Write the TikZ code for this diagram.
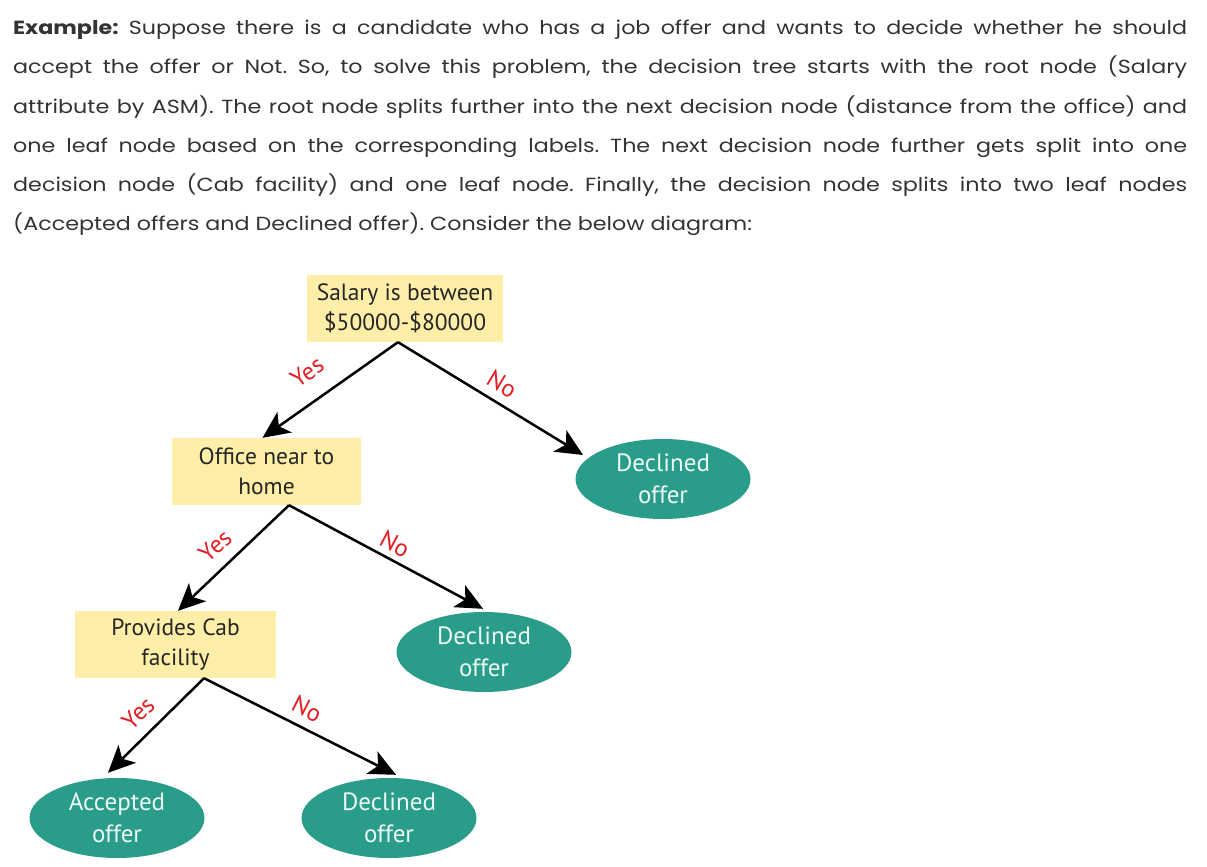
\documentclass[tikz,border=0pt]{standalone}
\usepackage{fontspec}
\setmainfont{Poppins}[FakeStretch=1.17]
\newfontfamily\diagfont{PT Sans}
\usetikzlibrary{shapes.geometric,arrows.meta}
\definecolor{boxyellow}{RGB}{255,238,168}
\definecolor{leafteal}{RGB}{42,157,138}
\definecolor{leaftext}{RGB}{235,248,243}
\definecolor{labred}{RGB}{226,30,36}
\definecolor{bodytext}{RGB}{51,51,51}
\tikzset{
  line/.style={anchor=base west,inner sep=0pt,text=bodytext,font=\fontsize{19}{22}\selectfont\frenchspacing},
  decbox/.style={rectangle,fill=boxyellow,inner sep=0pt,align=center,font=\diagfont\fontsize{23.5}{30}\selectfont,text=black!85},
  leaf/.style={ellipse,fill=leafteal,inner sep=0pt,minimum width=175pt,minimum height=80pt,align=center,font=\diagfont\fontsize{25}{32}\selectfont,text=leaftext},
  arr/.style={line width=2.5pt,-{Stealth[length=27pt,width=25pt,inset=7pt]}},
  yn/.style={text=labred,font=\diagfont\fontsize{24.5}{26}\selectfont,inner sep=0pt}
}
\begin{document}
\begin{tikzpicture}[x=1pt,y=-1pt]
\useasboundingbox[fill=white] (0,0) rectangle (1207,867);
% paragraph
\node[line] (l1) at (13,35) {\makebox[1174pt][s]{\textbf{Example:} Suppose there is a candidate who has a job offer and wants to decide whether he should}};
\node[line] (l2) at (13,74) {\makebox[1174pt][s]{accept the offer or Not. So, to solve this problem, the decision tree starts with the root node (Salary}};
\node[line] (l3) at (13,113) {\makebox[1174pt][s]{attribute by ASM). The root node splits further into the next decision node (distance from the office) and}};
\node[line] (l4) at (13,152) {\makebox[1174pt][s]{one leaf node based on the corresponding labels. The next decision node further gets split into one}};
\node[line] (l5) at (13,191) {\makebox[1174pt][s]{decision node (Cab facility) and one leaf node. Finally, the decision node splits into two leaf nodes}};
\node[line] (l6) at (13,230) {(Accepted offers and Declined offer). Consider the below diagram:};
% decision boxes
\node[decbox,minimum width=196pt,minimum height=67pt] (root) at (405,308.5) {Salary is between\\\$50000-\$80000};
\node[decbox,minimum width=189pt,minimum height=67pt] (office) at (266.5,471.5) {Office near to\\home};
\node[decbox,minimum width=201pt,minimum height=67pt] (cab) at (175.5,644.5) {Provides Cab\\facility};
% leaves
\node[leaf] (dec1) at (663,479) {Declined\\offer};
\node[leaf] (dec2) at (484,652) {Declined\\offer};
\node[leaf] (acc) at (117,818) {Accepted\\offer};
\node[leaf] (dec3) at (389,818) {Declined\\offer};
% connectors
\draw[arr] ([xshift=-7pt]root.south) -- ([xshift=-4pt]office.north);
\draw[arr] ([xshift=-7pt]root.south) -- ([shift={(-80,-24)}]dec1.center);
\draw[arr] ([xshift=22.5pt]office.south) -- ([xshift=2.5pt]cab.north);
\draw[arr] ([xshift=22.5pt]office.south) -- ([shift={(-1,-3)}]dec2.north);
\draw[arr] ([xshift=28.5pt]cab.south) -- ([shift={(-9,-5)}]acc.north);
\draw[arr] ([xshift=28.5pt]cab.south) -- ([shift={(7,-3)}]dec3.north);
% labels
\node[yn,rotate=35] (y1) at (307,372) {Yes};
\node[yn,rotate=-31] (n1) at (502,384) {No};
\node[yn,rotate=42] (y2) at (215,546) {Yes};
\node[yn,rotate=-28] (n2) at (395,544) {No};
\node[yn,rotate=44] (y3) at (138,713) {Yes};
\node[yn,rotate=-27] (n3) at (307,709) {No};
\end{tikzpicture}
\end{document}
